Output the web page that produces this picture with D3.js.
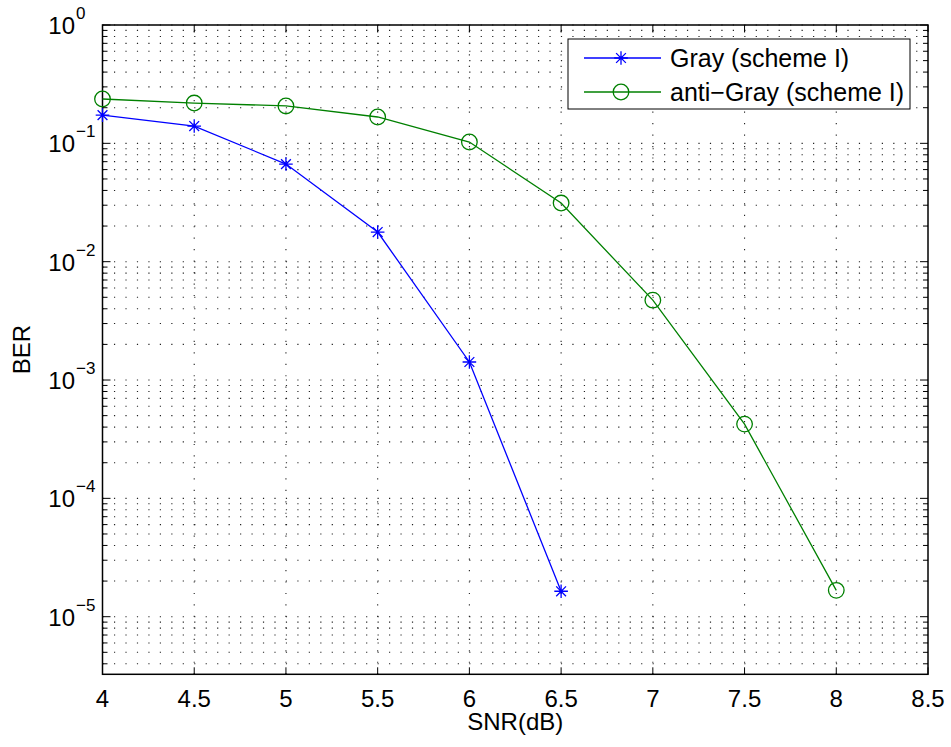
<!DOCTYPE html>
<html>
<head>
<meta charset="utf-8">
<script src="https://cdn.jsdelivr.net/npm/d3@7"></script>
<style>
  body { margin: 0; background: #fff; }
  svg text { font-family: "Liberation Sans", Arial, sans-serif; fill: #000; }
</style>
</head>
<body>
<div id="chart"></div>
<script>
// data
const snrGray = [4, 4.5, 5, 5.5, 6, 6.5];
const berGray = [0.173, 0.14, 0.0668, 0.0178, 0.00142, 1.64e-5];
const snrAnti = [4, 4.5, 5, 5.5, 6, 6.5, 7, 7.5, 8];
const berAnti = [0.237, 0.219, 0.207, 0.167, 0.1026, 0.0313, 0.00473, 4.24e-4, 1.67e-5];
const xTicks = [4, 4.5, 5, 5.5, 6, 6.5, 7, 7.5, 8, 8.5];
const yExps = [0, -1, -2, -3, -4, -5];
const seriesNames = ["Gray (scheme I)", "anti\u2212Gray (scheme I)"];

const W = 951, H = 747;
const axL = 102.5, axR = 928, axT = 25, axB = 674.3;

const svg = d3.select("#chart").append("svg")
    .attr("width", W)
    .attr("height", H);

const x = d3.scaleLinear().domain([4, 8.5]).range([axL, axR]);
const y = d3.scaleLog().domain([3.26e-6, 1]).range([axB, axT]);

// minor y values 2..9 x 10^k inside the domain
let minorY = [];
for (let k = -6; k <= -1; k++) {
    for (let m = 2; m <= 9; m++) {
        const v = m * Math.pow(10, k);
        if (v >= y.domain()[0] && v <= 1) minorY.push(v);
    }
}
const majorY = yExps.map(e => Math.pow(10, e));

// dotted grid
const grid = svg.append("g")
    .attr("stroke", "#222")
    .attr("stroke-width", 1.1)
    .attr("stroke-dasharray", "1.2,10.26");
grid.selectAll("line.h")
    .data(majorY.concat(minorY))
    .enter().append("line")
    .attr("x1", axL).attr("x2", axR)
    .attr("y1", d => y(d)).attr("y2", d => y(d));
grid.selectAll("line.v")
    .data(xTicks.slice(1, -1))
    .enter().append("line")
    .attr("y1", axB).attr("y2", axT)
    .attr("x1", d => x(d)).attr("x2", d => x(d));

// ticks on all sides, pointing in
const ticks = svg.append("g").attr("stroke", "#000").attr("stroke-width", 1);
majorY.forEach(v => {
    ticks.append("line").attr("x1", axL).attr("x2", axL + 8).attr("y1", y(v)).attr("y2", y(v));
    ticks.append("line").attr("x1", axR).attr("x2", axR - 8).attr("y1", y(v)).attr("y2", y(v));
});
minorY.forEach(v => {
    ticks.append("line").attr("x1", axL).attr("x2", axL + 5).attr("y1", y(v)).attr("y2", y(v));
    ticks.append("line").attr("x1", axR).attr("x2", axR - 5).attr("y1", y(v)).attr("y2", y(v));
});
xTicks.forEach(v => {
    ticks.append("line").attr("y1", axB).attr("y2", axB - 7).attr("x1", x(v)).attr("x2", x(v));
    ticks.append("line").attr("y1", axT).attr("y2", axT + 7).attr("x1", x(v)).attr("x2", x(v));
});

// axes box
svg.append("rect")
    .attr("x", axL).attr("y", axT)
    .attr("width", axR - axL).attr("height", axB - axT)
    .attr("fill", "none").attr("stroke", "#000").attr("stroke-width", 1.5);

// x tick labels
svg.append("g").selectAll("text")
    .data(xTicks)
    .enter().append("text")
    .attr("x", d => x(d))
    .attr("y", 707)
    .attr("text-anchor", "middle")
    .attr("font-size", 24)
    .text(d => d);

// y tick labels 10^k
const yl = svg.append("g").selectAll("g")
    .data(yExps)
    .enter().append("g");
yl.append("text")
    .attr("x", 75)
    .attr("y", d => y(Math.pow(10, d)) + 9)
    .attr("text-anchor", "end")
    .attr("font-size", 24)
    .text("10");
yl.append("text")
    .attr("x", 76)
    .attr("y", d => y(Math.pow(10, d)) - 6)
    .attr("font-size", 17)
    .text(d => d < 0 ? "\u2212" + (-d) : d);

// axis labels
svg.append("text")
    .attr("x", (axL + axR) / 2)
    .attr("y", 730)
    .attr("text-anchor", "middle")
    .attr("font-size", 24)
    .text("SNR(dB)");
svg.append("text")
    .attr("transform", "translate(30," + ((axT + axB) / 2) + ") rotate(-90)")
    .attr("text-anchor", "middle")
    .attr("font-size", 24)
    .text("BER");

const line = d3.line().x(d => x(d[0])).y(d => y(d[1]));
const grayPts = snrGray.map((s, i) => [s, berGray[i]]);
const antiPts = snrAnti.map((s, i) => [s, berAnti[i]]);

function star(g, cx, cy, r, color) {
    const d = r * 0.72;
    const p = `M${cx - r},${cy}L${cx + r},${cy}M${cx},${cy - r}L${cx},${cy + r}` +
        `M${cx - d},${cy - d}L${cx + d},${cy + d}M${cx - d},${cy + d}L${cx + d},${cy - d}`;
    g.append("path").attr("d", p).attr("stroke", color).attr("stroke-width", 1.3).attr("fill", "none");
}

const blue = "#0000ff", green = "#008000";

svg.append("path").datum(antiPts)
    .attr("d", line).attr("fill", "none").attr("stroke", green).attr("stroke-width", 1.3);
svg.append("g").selectAll("circle")
    .data(antiPts).enter().append("circle")
    .attr("cx", d => x(d[0])).attr("cy", d => y(d[1])).attr("r", 7.8)
    .attr("fill", "none").attr("stroke", green).attr("stroke-width", 1.3);

svg.append("path").datum(grayPts)
    .attr("d", line).attr("fill", "none").attr("stroke", blue).attr("stroke-width", 1.3);
const gStars = svg.append("g");
grayPts.forEach(d => star(gStars, x(d[0]), y(d[1]), 6.8, blue));

// legend
const lg = svg.append("g");
lg.append("rect")
    .attr("x", 568).attr("y", 39).attr("width", 342).attr("height", 70)
    .attr("fill", "#fff").attr("stroke", "#000").attr("stroke-width", 1);
const rows = [58, 92];
[blue, green].forEach((c, i) => {
    lg.append("line").attr("x1", 584).attr("x2", 661)
        .attr("y1", rows[i]).attr("y2", rows[i])
        .attr("stroke", c).attr("stroke-width", 1.3);
    if (i === 0) star(lg, 621, rows[i], 6.8, c);
    else lg.append("circle").attr("cx", 621).attr("cy", rows[i]).attr("r", 7.8)
        .attr("fill", "none").attr("stroke", c).attr("stroke-width", 1.3);
    lg.append("text").attr("x", 670).attr("y", rows[i] + 9)
        .attr("font-size", 25).text(seriesNames[i]);
});
</script>
</body>
</html>
